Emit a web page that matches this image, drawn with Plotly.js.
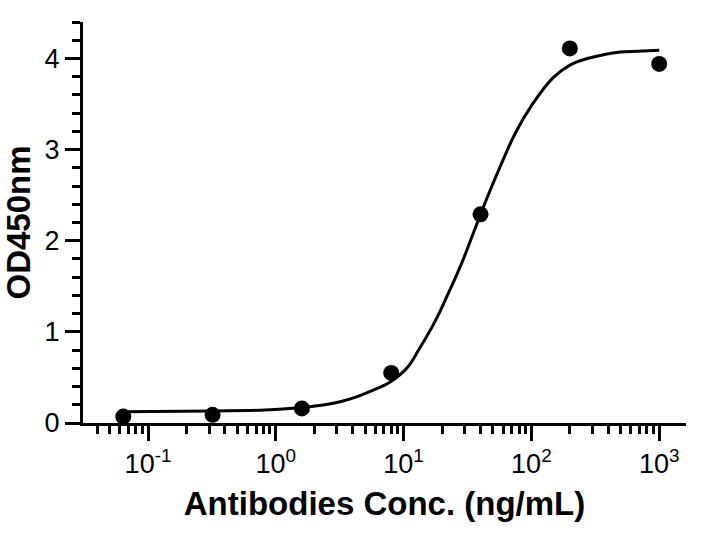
<!DOCTYPE html>
<html>
<head>
<meta charset="utf-8">
<script src="https://cdn.plot.ly/plotly-3.0.1.min.js"></script>
<style>
  html, body { margin: 0; padding: 0; background: #fff; }
  #chart { width: 701px; height: 535px; }
</style>
</head>
<body>
<div id="chart"></div>
<script>
// measured points
const conc = [0.064, 0.32, 1.6, 8, 40, 200, 1000];
const od450 = [0.07, 0.09, 0.16, 0.55, 2.29, 4.11, 3.94];

// fitted curve
const fitConc = [0.064, 0.32, 0.75, 1.29, 2.35, 3.19, 4.34, 5.78, 7.85, 10.7, 13.1, 17.7, 22.5, 28.6, 36.4, 46.2, 58.9, 74.8, 101, 148, 202, 274, 366, 497, 675, 1000];
const fitOd = [0.124, 0.132, 0.14, 0.16, 0.198, 0.234, 0.29, 0.36, 0.45, 0.61, 0.80, 1.12, 1.43, 1.76, 2.14, 2.51, 2.86, 3.18, 3.49, 3.79, 3.93, 4.00, 4.04, 4.07, 4.08, 4.09];

// axis ticks
const xTickVals = [0.1, 1, 10, 100, 1000];
const xTickText = ['10<sup>-1</sup>', '10<sup>0</sup>', '10<sup>1</sup>', '10<sup>2</sup>', '10<sup>3</sup>'];
const yTickVals = [0, 1, 2, 3, 4];

const font = 'Liberation Sans, Arial, Helvetica, sans-serif';

Plotly.newPlot('chart', [
  {
    x: fitConc,
    y: fitOd,
    type: 'scatter',
    mode: 'lines',
    line: { color: '#000', width: 3, shape: 'spline', smoothing: 1.1 },
    hoverinfo: 'skip'
  },
  {
    x: conc,
    y: od450,
    type: 'scatter',
    mode: 'markers',
    marker: { color: '#000', size: 16 }
  }
], {
  width: 701,
  height: 535,
  margin: { l: 83, r: 15, t: 22, b: 112 },
  paper_bgcolor: '#fff',
  plot_bgcolor: '#fff',
  showlegend: false,
  font: { family: font, color: '#000' },
  xaxis: {
    type: 'log',
    range: [-1.509, 3.21],
    tickvals: xTickVals,
    ticktext: xTickText,
    ticks: 'outside',
    ticklen: 15,
    tickwidth: 3,
    tickcolor: '#000',
    tickfont: { size: 27, family: font, color: '#000' },
    minor: { dtick: 'D1', ticks: 'outside', ticklen: 8, tickwidth: 3, tickcolor: '#000', showgrid: false },
    showline: true,
    linewidth: 3,
    linecolor: '#000',
    showgrid: false,
    zeroline: false,
    title: { text: '<b>Antibodies Conc. (ng/mL)</b>', font: { size: 33, family: font, color: '#000' }, standoff: 14 }
  },
  yaxis: {
    range: [0, 4.4],
    tickvals: yTickVals,
    ticks: 'outside',
    ticklen: 15,
    tickwidth: 3,
    tickcolor: '#000',
    tickfont: { size: 27, family: font, color: '#000' },
    minor: { dtick: 0.2, ticks: 'outside', ticklen: 8, tickwidth: 3, tickcolor: '#000', showgrid: false },
    showline: true,
    linewidth: 3,
    linecolor: '#000',
    showgrid: false,
    zeroline: false,
    title: { text: '<b>OD450nm</b>', font: { size: 33, family: font, color: '#000' }, standoff: 12 }
  }
}, { displayModeBar: false, staticPlot: true });
</script>
</body>
</html>
